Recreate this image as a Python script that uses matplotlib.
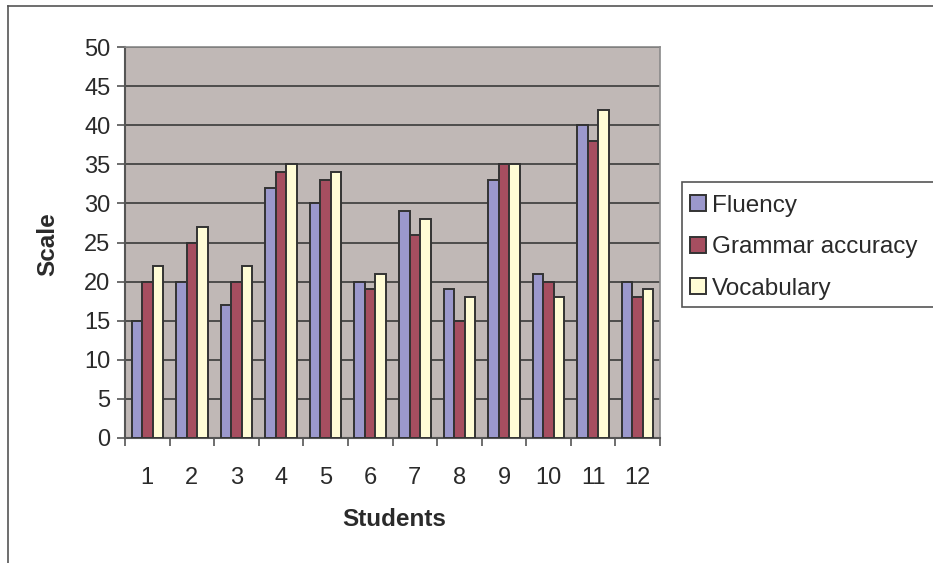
import matplotlib
matplotlib.use("Agg")
import matplotlib.pyplot as plt
import numpy as np
from matplotlib.patches import Rectangle
from matplotlib.lines import Line2D

plt.rcParams['font.family'] = ['Liberation Sans', 'DejaVu Sans']

students = ["1", "2", "3", "4", "5", "6", "7", "8", "9", "10", "11", "12"]
fluency = [15, 20, 17, 32, 30, 20, 29, 19, 33, 21, 40, 20]
grammar = [20, 25, 20, 34, 33, 19, 26, 15, 35, 20, 38, 18]
vocabulary = [22, 27, 22, 35, 34, 21, 28, 18, 35, 18, 42, 19]
series_names = ["Fluency", "Grammar accuracy", "Vocabulary"]
series_colors = ["#9b98cc", "#a64e60", "#fffcd6"]
y_ticks = list(range(0, 51, 5))

W, H = 933, 563
fig = plt.figure(figsize=(W / 100, H / 100), dpi=100)
fig.patch.set_facecolor("white")

ax = fig.add_axes([125 / W, 1 - 438 / H, 535 / W, 391 / H])
ax.set_facecolor("#c0b8b6")

x = np.arange(len(students))
bw = 0.235
handles = []
for i, (vals, name, col) in enumerate(zip([fluency, grammar, vocabulary],
                                          series_names, series_colors)):
    b = ax.bar(x + (i - 1) * bw, vals, width=bw, color=col,
               edgecolor="#333333", linewidth=1.4, label=name, zorder=3)
    handles.append(b)

ax.set_xlim(-0.5, len(students) - 0.5)
ax.set_ylim(0, 50)
ax.set_yticks(y_ticks)
ax.set_yticklabels([str(v) for v in y_ticks], fontsize=17, color="#2a2a2a")
ax.yaxis.grid(True, color="#3a3a3a", linewidth=1.2, zorder=1)
ax.set_axisbelow(True)

# category labels centred, tick marks on the boundaries
ax.set_xticks(x)
ax.set_xticklabels(students, fontsize=17, color="#2a2a2a")
ax.tick_params(axis="x", length=0, pad=21)
ax.set_xticks(np.arange(-0.5, len(students) + 0.5, 1), minor=True)
ax.tick_params(axis="x", which="minor", length=5.5, width=1.2, color="#555555")
ax.tick_params(axis="y", length=5.5, width=1.2, color="#555555", pad=5)

for side in ["top", "right"]:
    ax.spines[side].set_color("#8a8a8a")
    ax.spines[side].set_linewidth(1.2)
for side in ["left", "bottom"]:
    ax.spines[side].set_color("#555555")
    ax.spines[side].set_linewidth(1.5)

fig.text(48 / W, 1 - 244 / H, "Scale", rotation=90, fontsize=17.5,
         fontweight="bold", ha="center", va="center", color="#2a2a2a")
fig.text(394 / W, 1 - 520 / H, "Students", fontsize=17.5,
         fontweight="bold", ha="center", va="center", color="#2a2a2a")

# outer chart frame (left and top edges)
fig.add_artist(Line2D([8 / W, 8 / W], [0, 1 - 6 / H], transform=fig.transFigure,
                      color="#555555", linewidth=1.2))
fig.add_artist(Line2D([8 / W, 1], [1 - 6 / H, 1 - 6 / H], transform=fig.transFigure,
                      color="#555555", linewidth=1.2))

# legend box
fig.add_artist(Rectangle((682 / W, 1 - 307 / H), 300 / W, 125 / H,
                         transform=fig.transFigure, facecolor="white",
                         edgecolor="#555555", linewidth=1.2))
leg = fig.legend(handles=handles, labels=series_names, loc="upper left",
                 bbox_to_anchor=(685 / W, 1 - 190 / H), frameon=False,
                 fontsize=17.5, handlelength=0.65, handleheight=0.65,
                 handletextpad=0.25, labelspacing=0.8, borderpad=0.2,
                 borderaxespad=0)
for t in leg.get_texts():
    t.set_color("#2a2a2a")

fig.savefig("out.png", dpi=100)
